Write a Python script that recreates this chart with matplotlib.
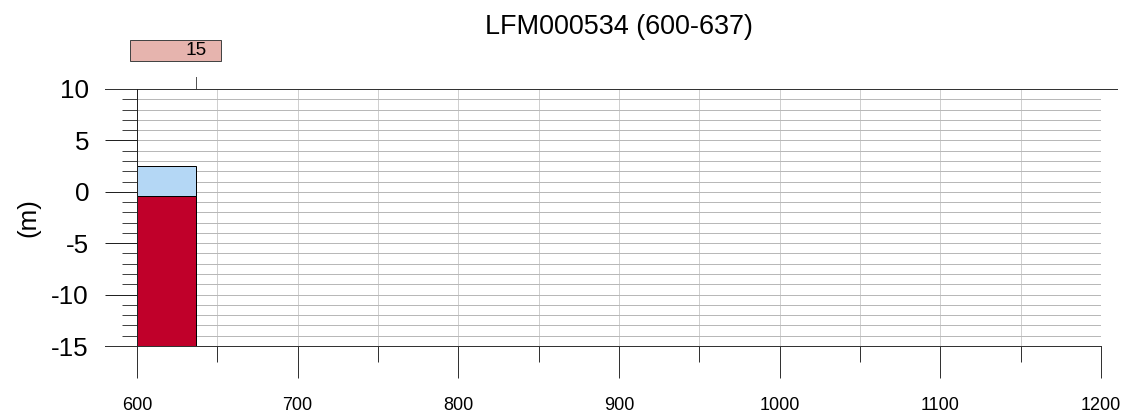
import matplotlib
matplotlib.use("Agg")
import matplotlib.pyplot as plt
from matplotlib.patches import Rectangle
from matplotlib.ticker import MultipleLocator

plt.rcParams['font.family'] = ['Liberation Sans', 'DejaVu Sans']
plt.rcParams['axes.unicode_minus'] = False

# Borehole interval and its layers (depth in m)
title = "LFM000534 (600-637)"
seg_start = 600
seg_end = 637
layer_bottoms = [-15.0, -0.4]
layer_tops = [-0.4, 2.5]
layer_colors = ["#c0002a", "#b4d7f5"]

# Marker shown above the plot
marker_pos = 637
marker_label = "15"
marker_box = (595.6, 652.3)

x_range = (600, 1200)
y_range = (-15, 10)

DPI = 72
fig = plt.figure(figsize=(1129 / DPI, 418 / DPI), dpi=DPI)
ax = fig.add_axes([137 / 1129, 1 - 346 / 418, 964 / 1129, 257 / 418])
ax.set_xlim(*x_range)
ax.set_ylim(*y_range)

for s in ax.spines.values():
    s.set_visible(False)

ax.xaxis.set_major_locator(MultipleLocator(100))
ax.xaxis.set_minor_locator(MultipleLocator(50))
ax.yaxis.set_major_locator(MultipleLocator(5))
ax.yaxis.set_minor_locator(MultipleLocator(1))

ax.tick_params(axis='x', which='major', length=32, width=1, color='#333333',
               labelsize=18, pad=19)
ax.tick_params(axis='x', which='minor', length=16, width=1, color='#333333')
ax.tick_params(axis='y', which='major', length=32, width=1, color='#222222',
               labelsize=26, pad=16)
ax.tick_params(axis='y', which='minor', length=15, width=1, color='#444444')

ax.grid(True, axis='y', which='both', color='#b8b8b8', linewidth=1, zorder=0)
ax.grid(True, axis='x', which='both', color='#d0d0d0', linewidth=1, zorder=0)
ax.set_axisbelow(True)

# Frame lines
ax.plot([-32 / 964, 1 + 16 / 964], [1, 1], transform=ax.transAxes,
        color='#333333', lw=1, clip_on=False, zorder=5)
ax.plot([-32 / 964, 1], [0, 0], transform=ax.transAxes,
        color='#333333', lw=1, clip_on=False, zorder=5)
ax.plot([0, 0], [0, 1], transform=ax.transAxes,
        color='#222222', lw=1, clip_on=False, zorder=5)

# Layer columns
for b, t, c in zip(layer_bottoms, layer_tops, layer_colors):
    ax.add_patch(Rectangle((seg_start, b), seg_end - seg_start, t - b,
                           facecolor=c, edgecolor='black', lw=1, zorder=4))

ax.set_ylabel("(m)", fontsize=26, labelpad=11)
ax.set_title(title, fontsize=27, pad=55)

# Marker tick and label box above the frame
trans = ax.get_xaxis_transform()
ax.plot([marker_pos, marker_pos], [1, 1 + 12 / 257], transform=trans,
        color='#555555', lw=1, clip_on=False)
ax.add_patch(Rectangle((marker_box[0], 1 + 28 / 257),
                       marker_box[1] - marker_box[0], 21 / 257,
                       transform=trans, facecolor='#e6b4ae',
                       edgecolor='#444444', lw=1, clip_on=False))
ax.text(marker_pos, 1 + 38.5 / 257, marker_label, transform=trans,
        ha='center', va='center', fontsize=19)

fig.savefig("out.png", dpi=DPI)
